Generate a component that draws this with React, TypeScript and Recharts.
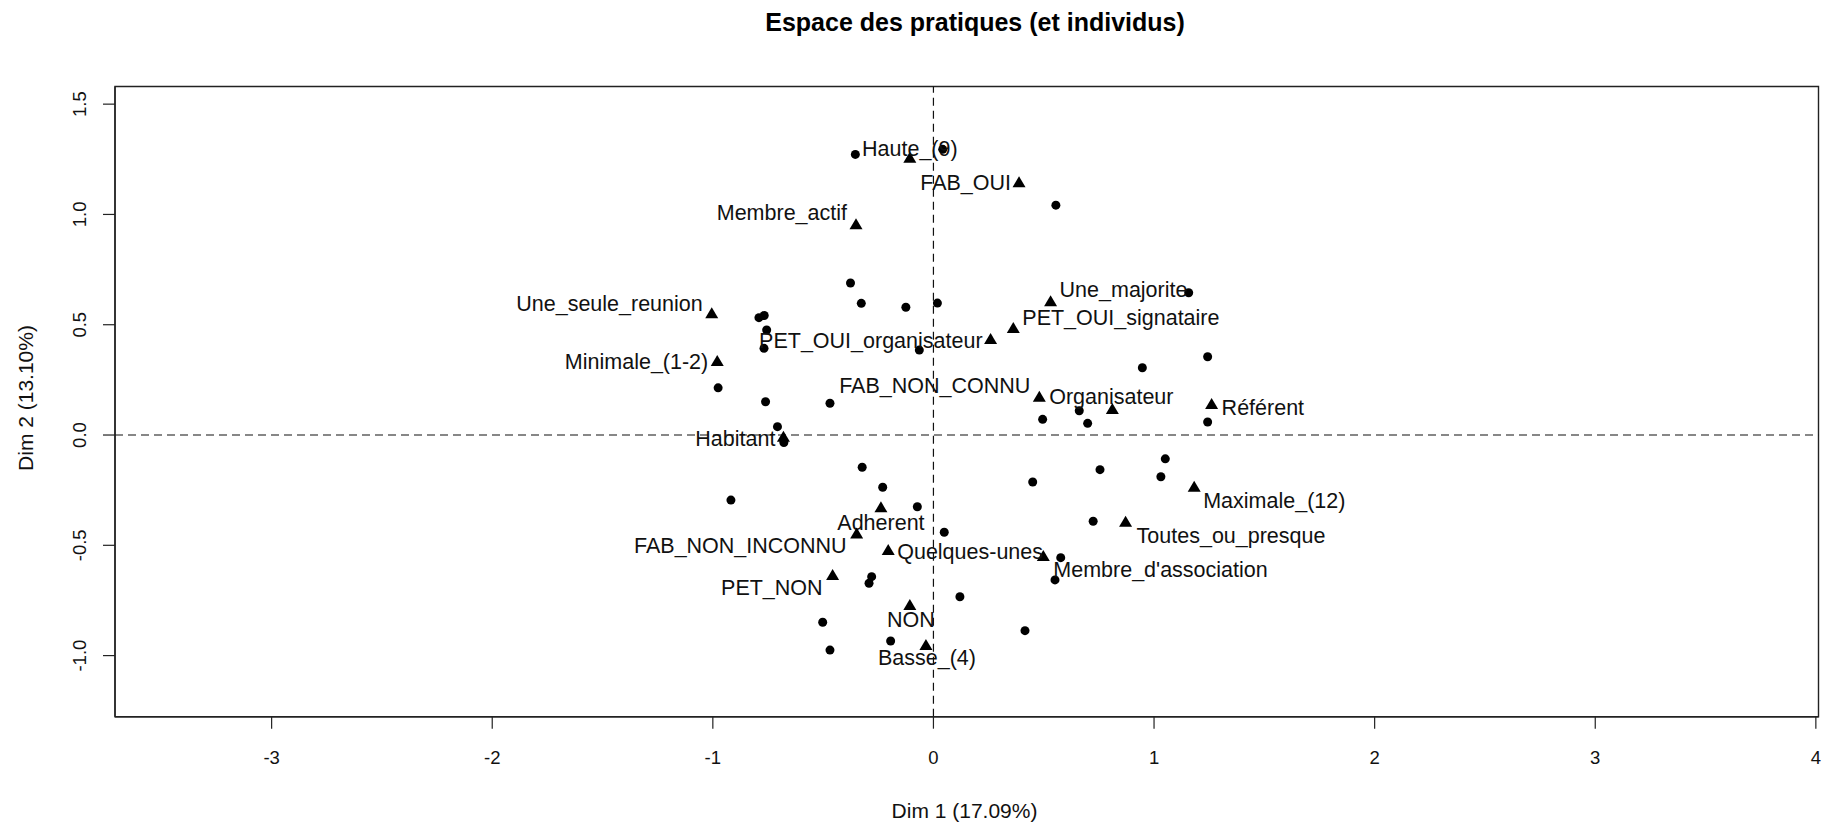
import React from 'react'
import { ScatterChart, Scatter, XAxis, YAxis, ReferenceLine, ReferenceArea } from 'recharts'

const W = 1834
const H = 826
const FONT = '"Liberation Sans", Arial, Helvetica, sans-serif'

// categories (modalities), drawn as triangles
const MOD_NAMES = [
  'Haute_(9)', 'FAB_OUI', 'Membre_actif', 'Une_majorite', 'PET_OUI_signataire',
  'PET_OUI_organisateur', 'Une_seule_reunion', 'Minimale_(1-2)', 'FAB_NON_CONNU',
  'Organisateur', 'Référent', 'Habitant', 'Maximale_(12)', 'Toutes_ou_presque',
  "Membre_d'association", 'Quelques-unes', 'Adherent', 'FAB_NON_INCONNU',
  'PET_NON', 'NON', 'Basse_(4)',
]
const MOD_DIM1 = [
  -0.107, 0.388, -0.351, 0.531, 0.362,
  0.259, -1.005, -0.980, 0.480,
  0.811, 1.261, -0.680, 1.182, 0.871,
  0.498, -0.205, -0.238, -0.348,
  -0.457, -0.107, -0.034,
]
const MOD_DIM2 = [
  1.257, 1.146, 0.956, 0.607, 0.485,
  0.435, 0.552, 0.335, 0.174,
  0.118, 0.141, -0.008, -0.234, -0.393,
  -0.549, -0.521, -0.328, -0.446,
  -0.635, -0.771, -0.952,
]

// individuals, drawn as dots
const IND_DIM1 = [
  -0.354, 0.042, 0.555, -0.376, -0.327, -0.125, 0.018, -0.791, -0.767, -0.756,
  -0.768, -0.064, -0.976, -0.761, -0.469, -0.707, -0.678, 0.495, 1.157, 1.243,
  0.947, 0.661, 0.699, 1.243, 1.051, 0.755, 1.031, 0.450, 0.724, 0.577,
  0.551, 0.415, -0.323, -0.230, -0.918, -0.073, 0.049, -0.280, -0.292, 0.120,
  -0.502, -0.469, -0.194,
]
const IND_DIM2 = [
  1.272, 1.295, 1.042, 0.689, 0.597, 0.579, 0.598, 0.532, 0.542, 0.476,
  0.393, 0.385, 0.214, 0.151, 0.144, 0.038, -0.034, 0.071, 0.645, 0.355,
  0.305, 0.110, 0.053, 0.059, -0.108, -0.157, -0.189, -0.213, -0.391, -0.556,
  -0.657, -0.887, -0.146, -0.237, -0.295, -0.325, -0.441, -0.642, -0.672, -0.733,
  -0.849, -0.975, -0.934,
]

const X_TICKS = [-3, -2, -1, 0, 1, 2, 3, 4]
const Y_TICKS = [-1, -0.5, 0, 0.5, 1, 1.5]

const X_DOMAIN: [number, number] = [-3.71, 4.012]
const Y_DOMAIN: [number, number] = [-1.277, 1.58]

// where each label sits relative to its triangle: anchor, dx, dy (px)
const LABEL_PLACE: Record<string, ['start' | 'middle' | 'end', number, number]> = {
  'Haute_(9)': ['middle', 0, -9],
  'FAB_OUI': ['end', -8, 1],
  'Membre_actif': ['end', -9, -11],
  'Une_majorite': ['start', 9, -11],
  'PET_OUI_signataire': ['start', 9, -10],
  'PET_OUI_organisateur': ['end', -8, 2],
  'Une_seule_reunion': ['end', -9, -9],
  'Minimale_(1-2)': ['end', -9, 1],
  'FAB_NON_CONNU': ['end', -9, -11],
  'Organisateur': ['middle', -1, -12],
  'Référent': ['start', 10, 4],
  'Habitant': ['end', -8, 2],
  'Maximale_(12)': ['start', 9, 14],
  'Toutes_ou_presque': ['start', 11, 14],
  "Membre_d'association": ['start', 10, 14],
  'Quelques-unes': ['start', 9, 2],
  'Adherent': ['middle', 0, 16],
  'FAB_NON_INCONNU': ['end', -10, 13],
  'PET_NON': ['end', -10, 13],
  'NON': ['middle', 1, 15],
  'Basse_(4)': ['middle', 1, 13],
}

const modalities = MOD_NAMES.map((name, i) => ({ name, x: MOD_DIM1[i], y: MOD_DIM2[i] }))
const individuals = IND_DIM1.map((x, i) => ({ x, y: IND_DIM2[i] }))

function TriangleMark(props: any) {
  const { cx, cy, payload } = props
  const [anchor, dx, dy] = LABEL_PLACE[payload.name] ?? ['middle', 0, -12]
  return (
    <g>
      <polygon
        points={`${cx},${cy - 6} ${cx - 6.5},${cy + 5} ${cx + 6.5},${cy + 5}`}
        fill="#000"
      />
      <text
        x={cx + dx}
        y={cy + dy}
        textAnchor={anchor}
        dominantBaseline="central"
        fontSize={21.5}
        fontFamily={FONT}
        fill="#111"
      >
        {payload.name}
      </text>
    </g>
  )
}

function DotMark(props: any) {
  const { cx, cy } = props
  return <circle cx={cx} cy={cy} r={4.5} fill="#000" />
}

function XTick(props: any) {
  const { x, y, payload } = props
  return (
    <text x={x} y={y + 29} textAnchor="middle" dominantBaseline="central"
      fontSize={18.5} fontFamily={FONT} fill="#111">
      {String(payload.value)}
    </text>
  )
}

function YTick(props: any) {
  const { x, y, payload } = props
  const tx = x - 23.5
  return (
    <text x={tx} y={y} textAnchor="middle" dominantBaseline="central"
      transform={`rotate(-90, ${tx}, ${y})`}
      fontSize={18.5} fontFamily={FONT} fill="#111">
      {Number(payload.value).toFixed(1)}
    </text>
  )
}

export default function App() {
  return (
    <div style={{ position: 'absolute', left: 0, top: 0, width: W, height: H, background: '#fff' }}>
      <ScatterChart width={W} height={H} margin={{ top: 86.5, right: 15.5, bottom: 0, left: 0 }}>
        <XAxis
          type="number"
          dataKey="x"
          domain={X_DOMAIN}
          ticks={X_TICKS}
          allowDataOverflow
          height={109.3}
          tickSize={12}
          tickMargin={0}
          tick={<XTick />}
          stroke="#222"
          axisLine={{ stroke: '#222', strokeWidth: 1.4 }}
          tickLine={{ stroke: '#222', strokeWidth: 1.2 }}
        />
        <YAxis
          type="number"
          dataKey="y"
          domain={Y_DOMAIN}
          ticks={Y_TICKS}
          allowDataOverflow
          width={115}
          tickSize={12}
          tickMargin={0}
          tick={<YTick />}
          stroke="#222"
          axisLine={{ stroke: '#222', strokeWidth: 1.4 }}
          tickLine={{ stroke: '#222', strokeWidth: 1.2 }}
        />
        <ReferenceArea
          x1={X_DOMAIN[0]} x2={X_DOMAIN[1]} y1={Y_DOMAIN[0]} y2={Y_DOMAIN[1]}
          fill="none" stroke="#222" strokeWidth={1.4} ifOverflow="visible"
        />
        <ReferenceLine x={0} stroke="#111" strokeWidth={1.2} strokeDasharray="8 5" />
        <ReferenceLine y={0} stroke="#111" strokeWidth={1.2} strokeDasharray="8 5" />
        <Scatter data={individuals} shape={<DotMark />} isAnimationActive={false} />
        <Scatter data={modalities} shape={<TriangleMark />} isAnimationActive={false} />
      </ScatterChart>
      <svg width={W} height={H} style={{ position: 'absolute', left: 0, top: 0, pointerEvents: 'none' }}>
        <text x={975} y={22} textAnchor="middle" dominantBaseline="central"
          fontSize={25} fontWeight="bold" fontFamily={FONT} fill="#000">
          Espace des pratiques (et individus)
        </text>
        <text x={964.5} y={810} textAnchor="middle" dominantBaseline="central"
          fontSize={21} fontFamily={FONT} fill="#111">
          Dim 1 (17.09%)
        </text>
        <text x={25.7} y={398} textAnchor="middle" dominantBaseline="central"
          transform="rotate(-90, 25.7, 398)"
          fontSize={21} fontFamily={FONT} fill="#111">
          Dim 2 (13.10%)
        </text>
      </svg>
    </div>
  )
}
